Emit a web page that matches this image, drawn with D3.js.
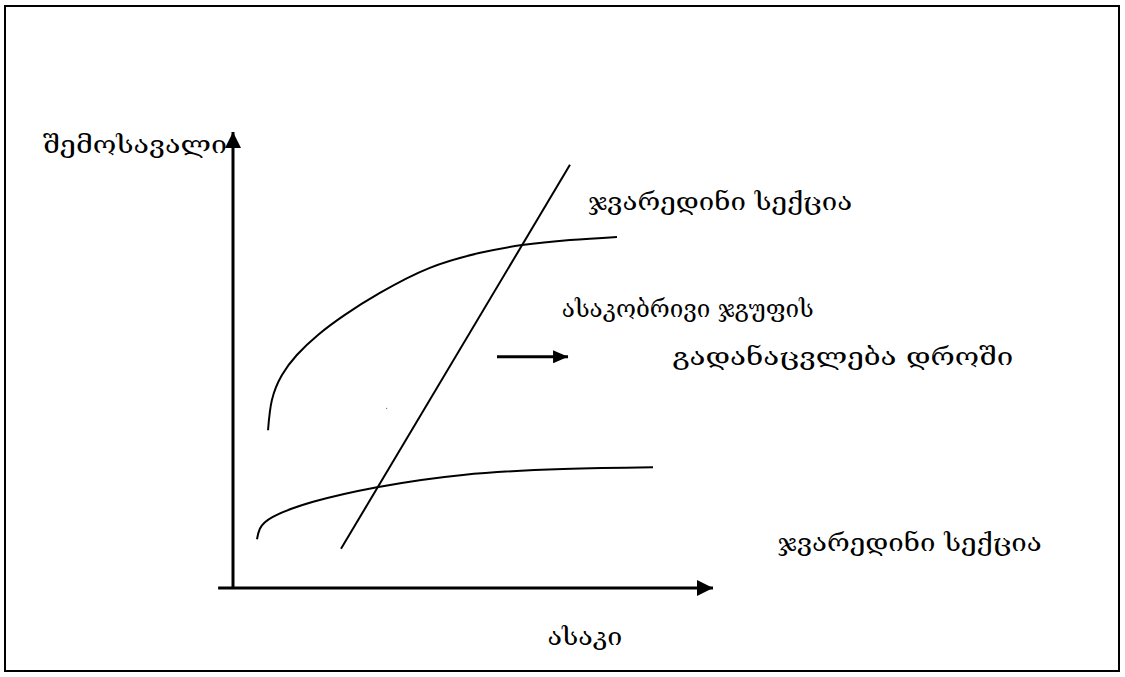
<!DOCTYPE html>
<html>
<head>
<meta charset="utf-8">
<script src="https://cdn.jsdelivr.net/npm/d3@7"></script>
<style>
  html, body { margin: 0; padding: 0; background: #fff; }
  svg { display: block; }
  text { font-family: "DejaVu Serif", "DejaVu Sans", serif; fill: #000; }
</style>
</head>
<body>
<div id="chart"></div>
<script>
// schematic: income vs age, two cross-sections and the cohort line
// values are in abstract units, age 0..100 on x, income 0..100 on y
var upperCurveAge    = [7.3, 8.1, 10.2, 13.3, 17.7, 23.3, 30.6, 41.0, 51.5, 60.2, 70.2, 80.0];
var upperCurveIncome = [34.6, 41.2, 46.7, 51.1, 55.5, 59.9, 64.7, 70.2, 73.5, 75.2, 76.3, 77.0];

var lowerCurveAge    = [5.0, 5.6, 8.3, 16.7, 30.0, 47.9, 68.8, 87.5];
var lowerCurveIncome = [10.7, 13.0, 15.6, 18.9, 22.1, 24.8, 26.1, 26.5];

var cohortAge    = [22.5, 70.2];
var cohortIncome = [8.6, 92.8];

var shiftAge    = [55.0, 69.8];
var shiftIncome = [50.7, 50.7];

var strayDot = [31.9, 39.5];

var labelTexts = [
  "შემოსავალი",
  "ჯვარედინი სექცია",
  "ასაკობრივი ჯგუფის",
  "გადანაცვლება დროში",
  "ჯვარედინი სექცია",
  "ასაკი"
];

// label placement: left edge, baseline (in axis units) and rendered width in px
var labelLayout = [
  { age: -39.6, income: 95.4, w: 184 },
  { age: 74.0,  income: 82.9, w: 264 },
  { age: 68.5,  income: 59.5, w: 252 },
  { age: 91.5,  income: 49.0, w: 341 },
  { age: 113.5, income: 8.1,  w: 264 },
  { age: 65.5,  income: -12.5, w: 75 }
];

var width = 1125, height = 677;

var x = d3.scaleLinear().domain([0, 100]).range([233, 713]);
var y = d3.scaleLinear().domain([0, 100]).range([588, 132]);

var svg = d3.select('#chart').append('svg')
  .attr('width', width)
  .attr('height', height);

// frame
svg.append('rect')
  .attr('x', 5).attr('y', 6)
  .attr('width', 1114).attr('height', 665)
  .attr('fill', 'none')
  .attr('stroke', '#000')
  .attr('stroke-width', 2);

var defs = svg.append('defs');
function marker(id, w, h) {
  defs.append('marker')
    .attr('id', id)
    .attr('viewBox', '0 0 ' + w + ' ' + h)
    .attr('refX', w).attr('refY', h / 2)
    .attr('markerWidth', w).attr('markerHeight', h)
    .attr('markerUnits', 'userSpaceOnUse')
    .attr('orient', 'auto')
    .append('path')
    .attr('d', 'M0,0L' + w + ',' + (h / 2) + 'L0,' + h + 'Z')
    .attr('fill', '#000');
}
marker('axisHead', 16, 16);
marker('smallHead', 15, 13);

var line = d3.line()
  .x(function(d) { return x(d[0]); })
  .y(function(d) { return y(d[1]); });

// axes
svg.append('path')
  .attr('d', line([[0, 0], [0, 100]]))
  .attr('stroke', '#000').attr('stroke-width', 3).attr('fill', 'none')
  .attr('marker-end', 'url(#axisHead)');
svg.append('path')
  .attr('d', line([[-3.1, 0], [100, 0]]))
  .attr('stroke', '#000').attr('stroke-width', 3).attr('fill', 'none')
  .attr('marker-end', 'url(#axisHead)');

var curve = d3.line()
  .x(function(d) { return x(d[0]); })
  .y(function(d) { return y(d[1]); })
  .curve(d3.curveNatural);

var upper = d3.zip(upperCurveAge, upperCurveIncome);
var lower = d3.zip(lowerCurveAge, lowerCurveIncome);

svg.append('g')
  .selectAll('.curve')
  .data([upper, lower])
  .enter().append('path')
  .attr('class', 'curve')
  .attr('d', curve)
  .attr('stroke', '#000').attr('stroke-width', 2).attr('fill', 'none');

svg.append('path')
  .attr('d', line(d3.zip(cohortAge, cohortIncome)))
  .attr('stroke', '#000').attr('stroke-width', 2).attr('fill', 'none');

svg.append('path')
  .attr('d', line(d3.zip(shiftAge, shiftIncome)))
  .attr('stroke', '#000').attr('stroke-width', 3).attr('fill', 'none')
  .attr('marker-end', 'url(#smallHead)');

svg.append('rect')
  .attr('x', x(strayDot[0])).attr('y', y(strayDot[1]))
  .attr('width', 1).attr('height', 1)
  .attr('fill', '#555');

svg.append('g')
  .selectAll('.label')
  .data(labelTexts)
  .enter().append('text')
  .attr('class', 'label')
  .attr('x', function(d, i) { return x(labelLayout[i].age); })
  .attr('y', function(d, i) { return y(labelLayout[i].income); })
  .attr('font-size', 24)
  .attr('textLength', function(d, i) { return labelLayout[i].w; })
  .attr('lengthAdjust', 'spacingAndGlyphs')
  .text(function(d) { return d; });
</script>
</body>
</html>
